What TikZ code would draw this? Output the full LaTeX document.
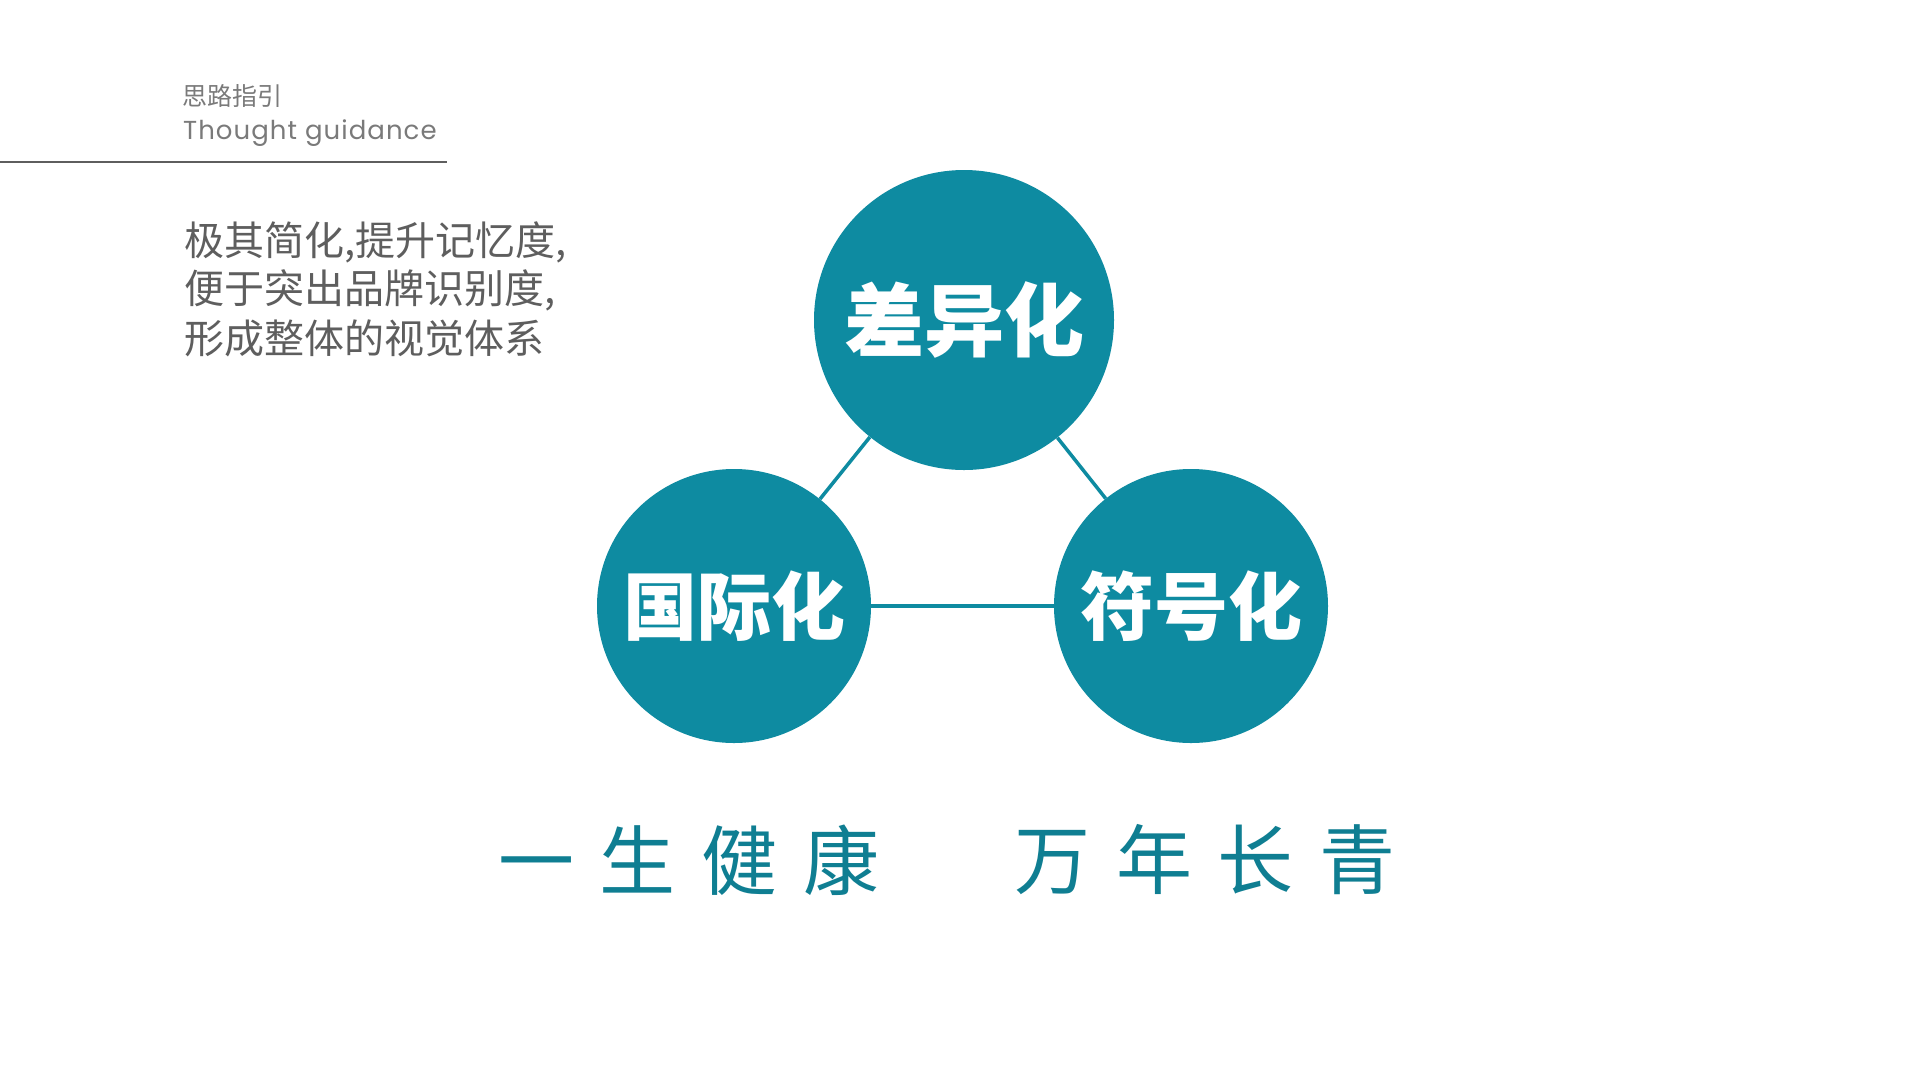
\documentclass[tikz,border=0pt]{standalone}
\usepackage{fontspec}
\newfontfamily\cjk{Noto Sans CJK SC}
\newfontfamily\guidefont[LetterSpace=4]{Poppins}
\definecolor{tealc}{HTML}{0E8BA1}
\definecolor{tealdark}{HTML}{0F7E92}
\definecolor{graytext}{HTML}{5E5E5E}
\definecolor{graylight}{HTML}{7A7A7A}
\tikzset{
  bubble/.style={circle, fill=tealc, inner sep=0pt, text=white, font=\cjk\bfseries\fontsize{74}{80}\selectfont},
  conn/.style={draw=tealc, line width=3.5pt},
  para/.style={anchor=west, inner sep=0pt, text=graytext, font=\cjk\fontsize{40}{48}\selectfont},
  slogan/.style={inner sep=0pt, text=tealdark, font=\cjk\fontsize{76}{80}\selectfont},
}
\begin{document}
\begin{tikzpicture}[x=1pt,y=-1pt]
\useasboundingbox[fill=white] (0,0) rectangle (1920,1080);
% header
\node[anchor=west, inner sep=0pt, text=graylight, font=\cjk\fontsize{25}{30}\selectfont] (h1) at (182,96) {思路指引};
\node[anchor=base west, inner sep=0pt, text=graylight, font=\guidefont\fontsize{26}{30}\selectfont] (h2) at (183,139) {Thought guidance};
\coordinate (r1) at (0,162);
\coordinate (r2) at (447,162);
\draw[draw=graytext, line width=2pt] (r1) -- (r2);
% paragraph
\node[para] (p1) at (184,242) {极其简化,提升记忆度,};
\node[para] (p2) at (184,290) {便于突出品牌识别度,};
\node[para] (p3) at (184,338) {形成整体的视觉体系};
% circles
\node[bubble, minimum size=300pt, font=\cjk\bfseries\fontsize{80}{86}\selectfont] (top) at (964,320) {差异化};
\node[bubble, minimum size=274pt] (left) at (734,606) {国际化};
\node[bubble, minimum size=274pt] (right) at (1191,606) {符号化};
\draw[conn] (top) -- (left);
\draw[conn] (top) -- (right);
\draw[conn] (left) -- (right);
% slogans
\node[slogan] (s1) at (689,860) {一\hspace{26pt}生\hspace{26pt}健\hspace{26pt}康};
\node[slogan] (s2) at (1205,860) {万\hspace{26pt}年\hspace{26pt}长\hspace{26pt}青};
\end{tikzpicture}
\end{document}
